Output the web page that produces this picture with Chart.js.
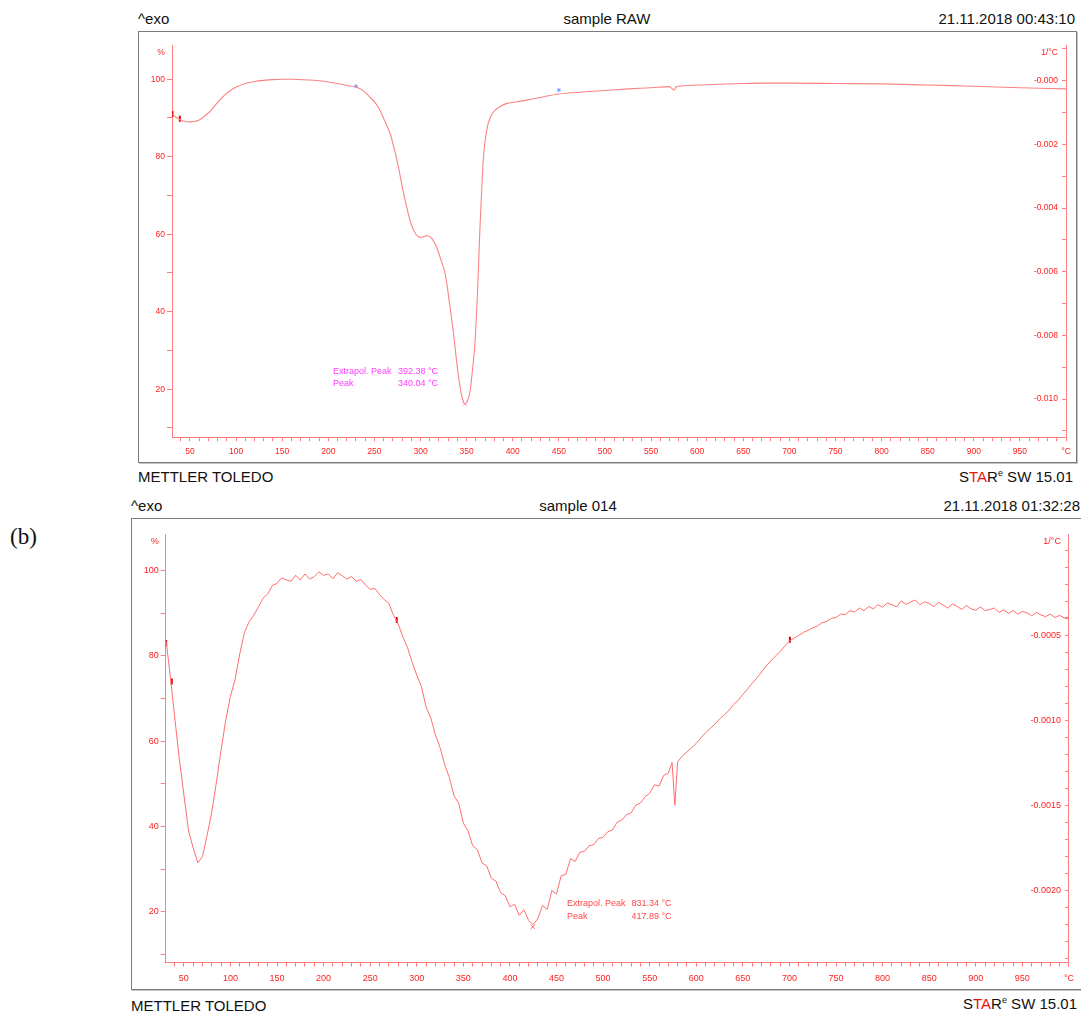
<!DOCTYPE html>
<html>
<head>
<meta charset="utf-8">
<script src="https://cdn.jsdelivr.net/npm/chart.js@4.4.0/dist/chart.umd.min.js"></script>
<style>
  body { margin: 0; background: #fff; width: 1081px; height: 1014px; position: relative; overflow: hidden;
         font-family: "Liberation Sans", Arial, sans-serif; color: #111; }
  .t { position: absolute; font-size: 15px; line-height: 18px; white-space: nowrap; }
  .frame { position: absolute; box-sizing: border-box; border: 1px solid #7a7a7a; box-shadow: 1px 1px 0 #c4c4c4; pointer-events: none; }
  canvas { position: absolute; }
  .red { color: #ee1111; }
  sup { font-size: 9px; vertical-align: 6px; line-height: 0; }
</style>
</head>
<body>

<div class="t" style="left:138px; top:10px;">^exo</div>
<div class="t" style="left:407px; top:10px; width:400px; text-align:center;">sample RAW</div>
<div class="t" style="left:775px; top:10px; width:300px; text-align:right;">21.11.2018 00:43:10</div>
<canvas id="topChart" width="938" height="431" style="left:138px; top:31px; width:938px; height:431px;"></canvas>
<div class="frame" style="left:138px; top:31px; width:939px; height:432px;"></div>
<div class="t" style="left:138px; top:468px;">METTLER TOLEDO</div>
<div class="t" style="left:773px; top:468px; width:300px; text-align:right;">S<span class="red">TA</span>R<sup>e</sup> SW 15.01</div>

<div class="t" style="left:10px; top:524px; font-family:'Liberation Serif', 'Times New Roman', serif; font-size:23px; line-height:26px;">(b)</div>
<div class="t" style="left:131px; top:497px;">^exo</div>
<div class="t" style="left:378px; top:497px; width:400px; text-align:center;">sample 014</div>
<div class="t" style="left:780px; top:497px; width:300px; text-align:right;">21.11.2018 01:32:28</div>
<canvas id="botChart" width="949" height="471" style="left:131px; top:518px; width:949px; height:471px;"></canvas>
<div class="frame" style="left:131px; top:518px; width:952px; height:472px;"></div>
<div class="t" style="left:131px; top:997px;">METTLER TOLEDO</div>
<div class="t" style="left:777px; top:995px; width:300px; text-align:right;">S<span class="red">TA</span>R<sup>e</sup> SW 15.01</div>

<script>
// sample RAW: TGA curve, % against temperature
const topTemp = [31, 35, 40, 45, 50, 55, 60, 65, 70, 75,
  80, 85, 90, 95, 100, 110, 120, 130, 140, 150,
  160, 170, 180, 190, 200, 210, 220, 231, 240, 245,
  250, 256, 260, 267, 270, 276, 280, 285, 290, 295,
  300, 305, 308, 312, 317, 322, 327, 332, 336, 339,
  342, 345, 348, 351, 354, 357, 359, 362, 364.5, 366.5,
  368, 370, 373, 376, 380, 386, 393, 405, 415, 430,
  450, 475, 500, 525, 550, 570, 575, 577, 580, 600,
  625, 650, 675, 700, 750, 800, 850, 900, 950, 1000];
const topPct = [91.0, 90.2, 89.5, 89.1, 89.0, 89.1, 89.5, 90.3, 91.3, 92.6,
  94.0, 95.3, 96.4, 97.3, 98.0, 98.9, 99.4, 99.7, 99.9, 100.0,
  100.0, 99.9, 99.8, 99.6, 99.3, 98.9, 98.4, 97.9, 96.6, 95.4,
  94.2, 92.0, 89.9, 86.0, 83.5, 77.4, 72.5, 67.0, 62.5, 60.0,
  59.2, 59.5, 59.6, 59.0, 56.9, 53.5, 49.5, 41.2, 34.0, 27.5,
  22.0, 18.0, 16.2, 17.0, 20.0, 26.5, 31.8, 46.0, 61.9, 72.0,
  79.0, 84.0, 88.2, 90.3, 91.8, 92.9, 93.7, 94.2, 94.6, 95.3,
  96.2, 96.7, 97.1, 97.5, 97.8, 98.1, 97.2, 98.0, 98.2, 98.5,
  98.7, 98.9, 99.0, 99.0, 98.9, 98.8, 98.5, 98.2, 97.8, 97.5];
const topPeak = [348, 16.2];
const topLimitTemp = [230, 450];
const topLimitPct = [98.2, 97.2];
const topStartTemp = [31, 39];
const topStartPct = [91.0, 89.8];
const topNote = [['Extrapol. Peak', '392.38 °C'], ['Peak', '340.04 °C']];

// sample 014
const botTemp = [31, 35, 40, 45, 50, 55, 60, 65, 70, 75,
  80, 85, 90, 95, 100, 105, 110, 115, 120, 125,
  130, 135, 140, 145, 150, 155, 160, 165, 170, 175,
  180, 185, 190, 195, 200, 205, 210, 215, 220, 225,
  230, 235, 240, 245, 250, 255, 260, 265, 270, 275,
  280, 285, 290, 295, 300, 305, 310, 315, 320, 325,
  330, 335, 340, 345, 350, 355, 360, 365, 370, 375,
  380, 385, 390, 395, 400, 405, 410, 415, 420, 425,
  430, 435, 440, 445, 450, 455, 460, 465, 470, 475,
  480, 485, 490, 495, 500, 505, 510, 515, 520, 525,
  530, 535, 540, 545, 550, 555, 560, 565, 570, 574,
  577, 580, 585, 590, 595, 600, 605, 610, 615, 620,
  625, 630, 635, 640, 645, 650, 655, 660, 665, 670,
  675, 680, 685, 690, 695, 700, 705, 710, 715, 720,
  725, 730, 735, 740, 745, 750, 755, 760, 765, 770,
  775, 780, 785, 790, 795, 800, 805, 810, 815, 820,
  825, 830, 835, 840, 845, 850, 855, 860, 865, 870,
  875, 880, 885, 890, 895, 900, 905, 910, 915, 920,
  925, 930, 935, 940, 945, 950, 955, 960, 965, 970,
  975, 980, 985, 990, 995, 1000];
const botPct = [83.5, 76, 66, 56, 47.5, 39, 35, 31.5, 33, 38,
  43.5, 50.5, 58, 65, 70.5, 74.5, 80.5, 85.5, 88, 89.5,
  91.5, 93.5, 94.5, 96.5, 97.0, 98.3, 97.8, 97.5, 98.9, 97.8,
  99.2, 98.0, 98.6, 99.7, 98.9, 99.2, 98.1, 99.5, 98.8, 98.0,
  98.6, 97.5, 97.9, 96.6, 95.6, 95.8, 94.4, 93.2, 92.3, 89.5,
  87.5, 84.5, 82, 78.5, 75.5, 72.8, 68, 65.5, 61.5, 58.5,
  54.5, 51.5, 47.2, 45.5, 40.8, 39, 35.5, 34.6, 31.5, 30.8,
  27.9, 27.2, 24.5, 23.8, 21.2, 21.8, 19.2, 20.5, 18, 17,
  18.5, 21.5, 20.6, 25, 24.2, 28.5, 28.8, 32.5, 31.8, 34,
  34.2, 35.5, 35.8, 37.2, 37.5, 38.8, 39.2, 41, 41.5, 42.8,
  43.2, 45, 45.5, 47, 47.8, 49.8, 49.5, 52, 52.5, 55,
  45, 55.2, 56.5, 57.5, 58.5, 59.5, 60.8, 62, 63, 64,
  65.2, 66.2, 67.2, 68.6, 69.6, 71, 72.2, 73.6, 74.8, 76.2,
  77.6, 78.8, 80, 81, 82.3, 83.5, 84.2, 84.8, 85.5, 86,
  86.6, 87, 87.8, 88.1, 88.8, 89, 89.8, 89.7, 90.6, 90.3,
  91.2, 90.6, 91.6, 91, 92, 91.4, 92.4, 92.0, 91.5, 92.9,
  92.1, 92.6, 93.1, 92.0, 92.7, 92.3, 91.5, 92.6, 91.9, 91.2,
  92.2, 91.6, 90.9, 91.8, 91.0, 90.7, 91.5, 90.6, 90.9, 91.2,
  90.2, 90.8, 90.0, 90.6, 89.8, 90.4, 90.1, 89.4, 90.2, 89.6,
  89.2, 89.8, 89.0, 89.5, 88.9, 89.1];
const botPeak = [424.5, 16.5];
const botMarkTemp = [31, 37, 278.5, 700.5];
const botMarkPct = [83.0, 74.0, 88.4, 83.8];
const botNote = [['Extrapol. Peak', '831.34 °C'], ['Peak', '417.89 °C']];

const axisCol = 'rgb(255,125,125)';
const tickCol = '#ff2020';

const pts = (xs, ys) => xs.map((x, i) => ({ x: x, y: ys[i] }));

// unit labels and the peak evaluation text
function panelText(o) {
  return {
    id: 'panelText',
    afterDraw(chart) {
      const { ctx, chartArea: a, scales } = chart;
      ctx.save();
      ctx.font = o.fontSize + 'px "Liberation Sans", Arial, sans-serif';
      ctx.fillStyle = tickCol;
      ctx.textBaseline = 'middle';
      ctx.textAlign = 'center';
      ctx.fillText('%', a.left - 11, a.top + 7);
      ctx.textAlign = 'right';
      ctx.fillText('1/°C', a.right - 8, a.top + 7);
      const px = scales.x.getPixelForValue(o.noteAt[0]);
      const py = scales.y.getPixelForValue(o.noteAt[1]);
      ctx.font = '9px "Liberation Sans", Arial, sans-serif';
      ctx.fillStyle = o.noteColor;
      ctx.textAlign = 'left';
      o.note.forEach((r, i) => {
        ctx.fillText(r[0], px, py + i * o.rowGap);
        ctx.fillText(r[1], px + o.valueGap, py + i * o.rowGap);
      });
      ctx.restore();
    }
  };
}

function panel(id, o) {
  const tickFont = { family: '"Liberation Sans", Arial, sans-serif', size: o.fontSize };
  return new Chart(document.getElementById(id), {
    type: 'line',
    data: { datasets: o.datasets },
    options: {
      responsive: false,
      animation: false,
      events: [],
      layout: { padding: { top: o.padTop, left: 0, right: 0, bottom: 0 } },
      plugins: { legend: { display: false }, tooltip: { enabled: false } },
      scales: {
        x: {
          type: 'linear', min: 30.5, max: 1000,
          afterFit: s => { s.height = o.xH; },
          border: { color: axisCol, width: 1 },
          grid: { drawOnChartArea: false, color: axisCol, tickLength: 4 },
          ticks: {
            stepSize: 10, autoSkip: false, maxRotation: 0, minRotation: 0, includeBounds: false,
            padding: o.xPad, color: tickCol, font: tickFont,
            callback: v => v === 1000 ? '°C' : (v % 50 === 0 ? String(v) : '')
          }
        },
        y: {
          min: o.yMin, max: o.yMax,
          afterFit: s => { s.width = o.yW; },
          border: { color: axisCol, width: 1 },
          grid: { drawOnChartArea: false, color: axisCol, tickLength: 5 },
          ticks: {
            stepSize: 10, autoSkip: false, includeBounds: false, padding: 2,
            color: tickCol, font: tickFont,
            callback: v => v % 20 === 0 ? String(v) : ''
          }
        },
        y2: {
          axis: 'y', position: 'right', min: o.y2Min, max: o.y2Max,
          afterFit: s => { s.width = o.y2W; },
          border: { color: axisCol, width: 1 },
          grid: { drawOnChartArea: false, color: axisCol, tickLength: -4 },
          ticks: {
            stepSize: o.y2Step, autoSkip: false, includeBounds: false, mirror: true, padding: -8,
            color: tickCol, font: tickFont,
            callback: o.y2Label
          }
        }
      }
    },
    plugins: [panelText(o)]
  });
}

panel('topChart', {
  padTop: 14.7, xH: 24.7, yW: 34, y2W: 10, xPad: 5, fontSize: 8.5,
  yMin: 7.6, yMax: 108.65,
  y2Min: -0.0112, y2Max: 0.0011, y2Step: 0.001,
  y2Label: v => {
    const k = Math.round(v * 1000);
    if (k % 2 !== 0) return '';
    return k === 0 ? '-0.000' : (k / 1000).toFixed(3);
  },
  noteAt: [205, 24.6], note: topNote, noteColor: '#ff3cff', rowGap: 12, valueGap: 65,
  datasets: [
    { data: pts(topTemp, topPct), borderColor: 'rgb(250,130,130)', borderWidth: 1.1,
      pointRadius: 0, cubicInterpolationMode: 'monotone' },
    { data: [{ x: topPeak[0], y: topPeak[1] }], showLine: false, pointStyle: 'crossRot',
      pointRadius: 3, borderColor: '#ffa6f0', borderWidth: 1 },
    { data: pts(topLimitTemp, topLimitPct), showLine: false, pointStyle: 'star',
      pointRadius: 2, borderColor: '#6aa6ff', borderWidth: 1 },
    { data: pts(topStartTemp, topStartPct), showLine: false, pointStyle: 'line', rotation: 90,
      pointRadius: 3, borderColor: '#e00000', borderWidth: 2 }
  ]
});

panel('botChart', {
  padTop: 16.3, xH: 26.3, yW: 34.7, y2W: 8.7, xPad: 6, fontSize: 9,
  yMin: 8.1, yMax: 108.5,
  y2Min: -0.002424, y2Max: 0.0000924, y2Step: 0.0001,
  y2Label: v => {
    const k = Math.round(v * 10000);
    if (k === 0 || k % 5 !== 0) return '';
    return (k / 10000).toFixed(4);
  },
  noteAt: [461.3, 22.0], note: botNote, noteColor: '#ff4848', rowGap: 13.4, valueGap: 64.4,
  datasets: [
    { data: pts(botTemp, botPct), borderColor: 'rgb(255,110,110)', borderWidth: 1,
      pointRadius: 0, tension: 0 },
    { data: [{ x: botPeak[0], y: botPeak[1] }], showLine: false, pointStyle: 'crossRot',
      pointRadius: 3, borderColor: '#ff6060', borderWidth: 1 },
    { data: pts(botMarkTemp, botMarkPct), showLine: false, pointStyle: 'line', rotation: 90,
      pointRadius: 3, borderColor: '#e00000', borderWidth: 2 }
  ]
});
</script>
</body>
</html>
